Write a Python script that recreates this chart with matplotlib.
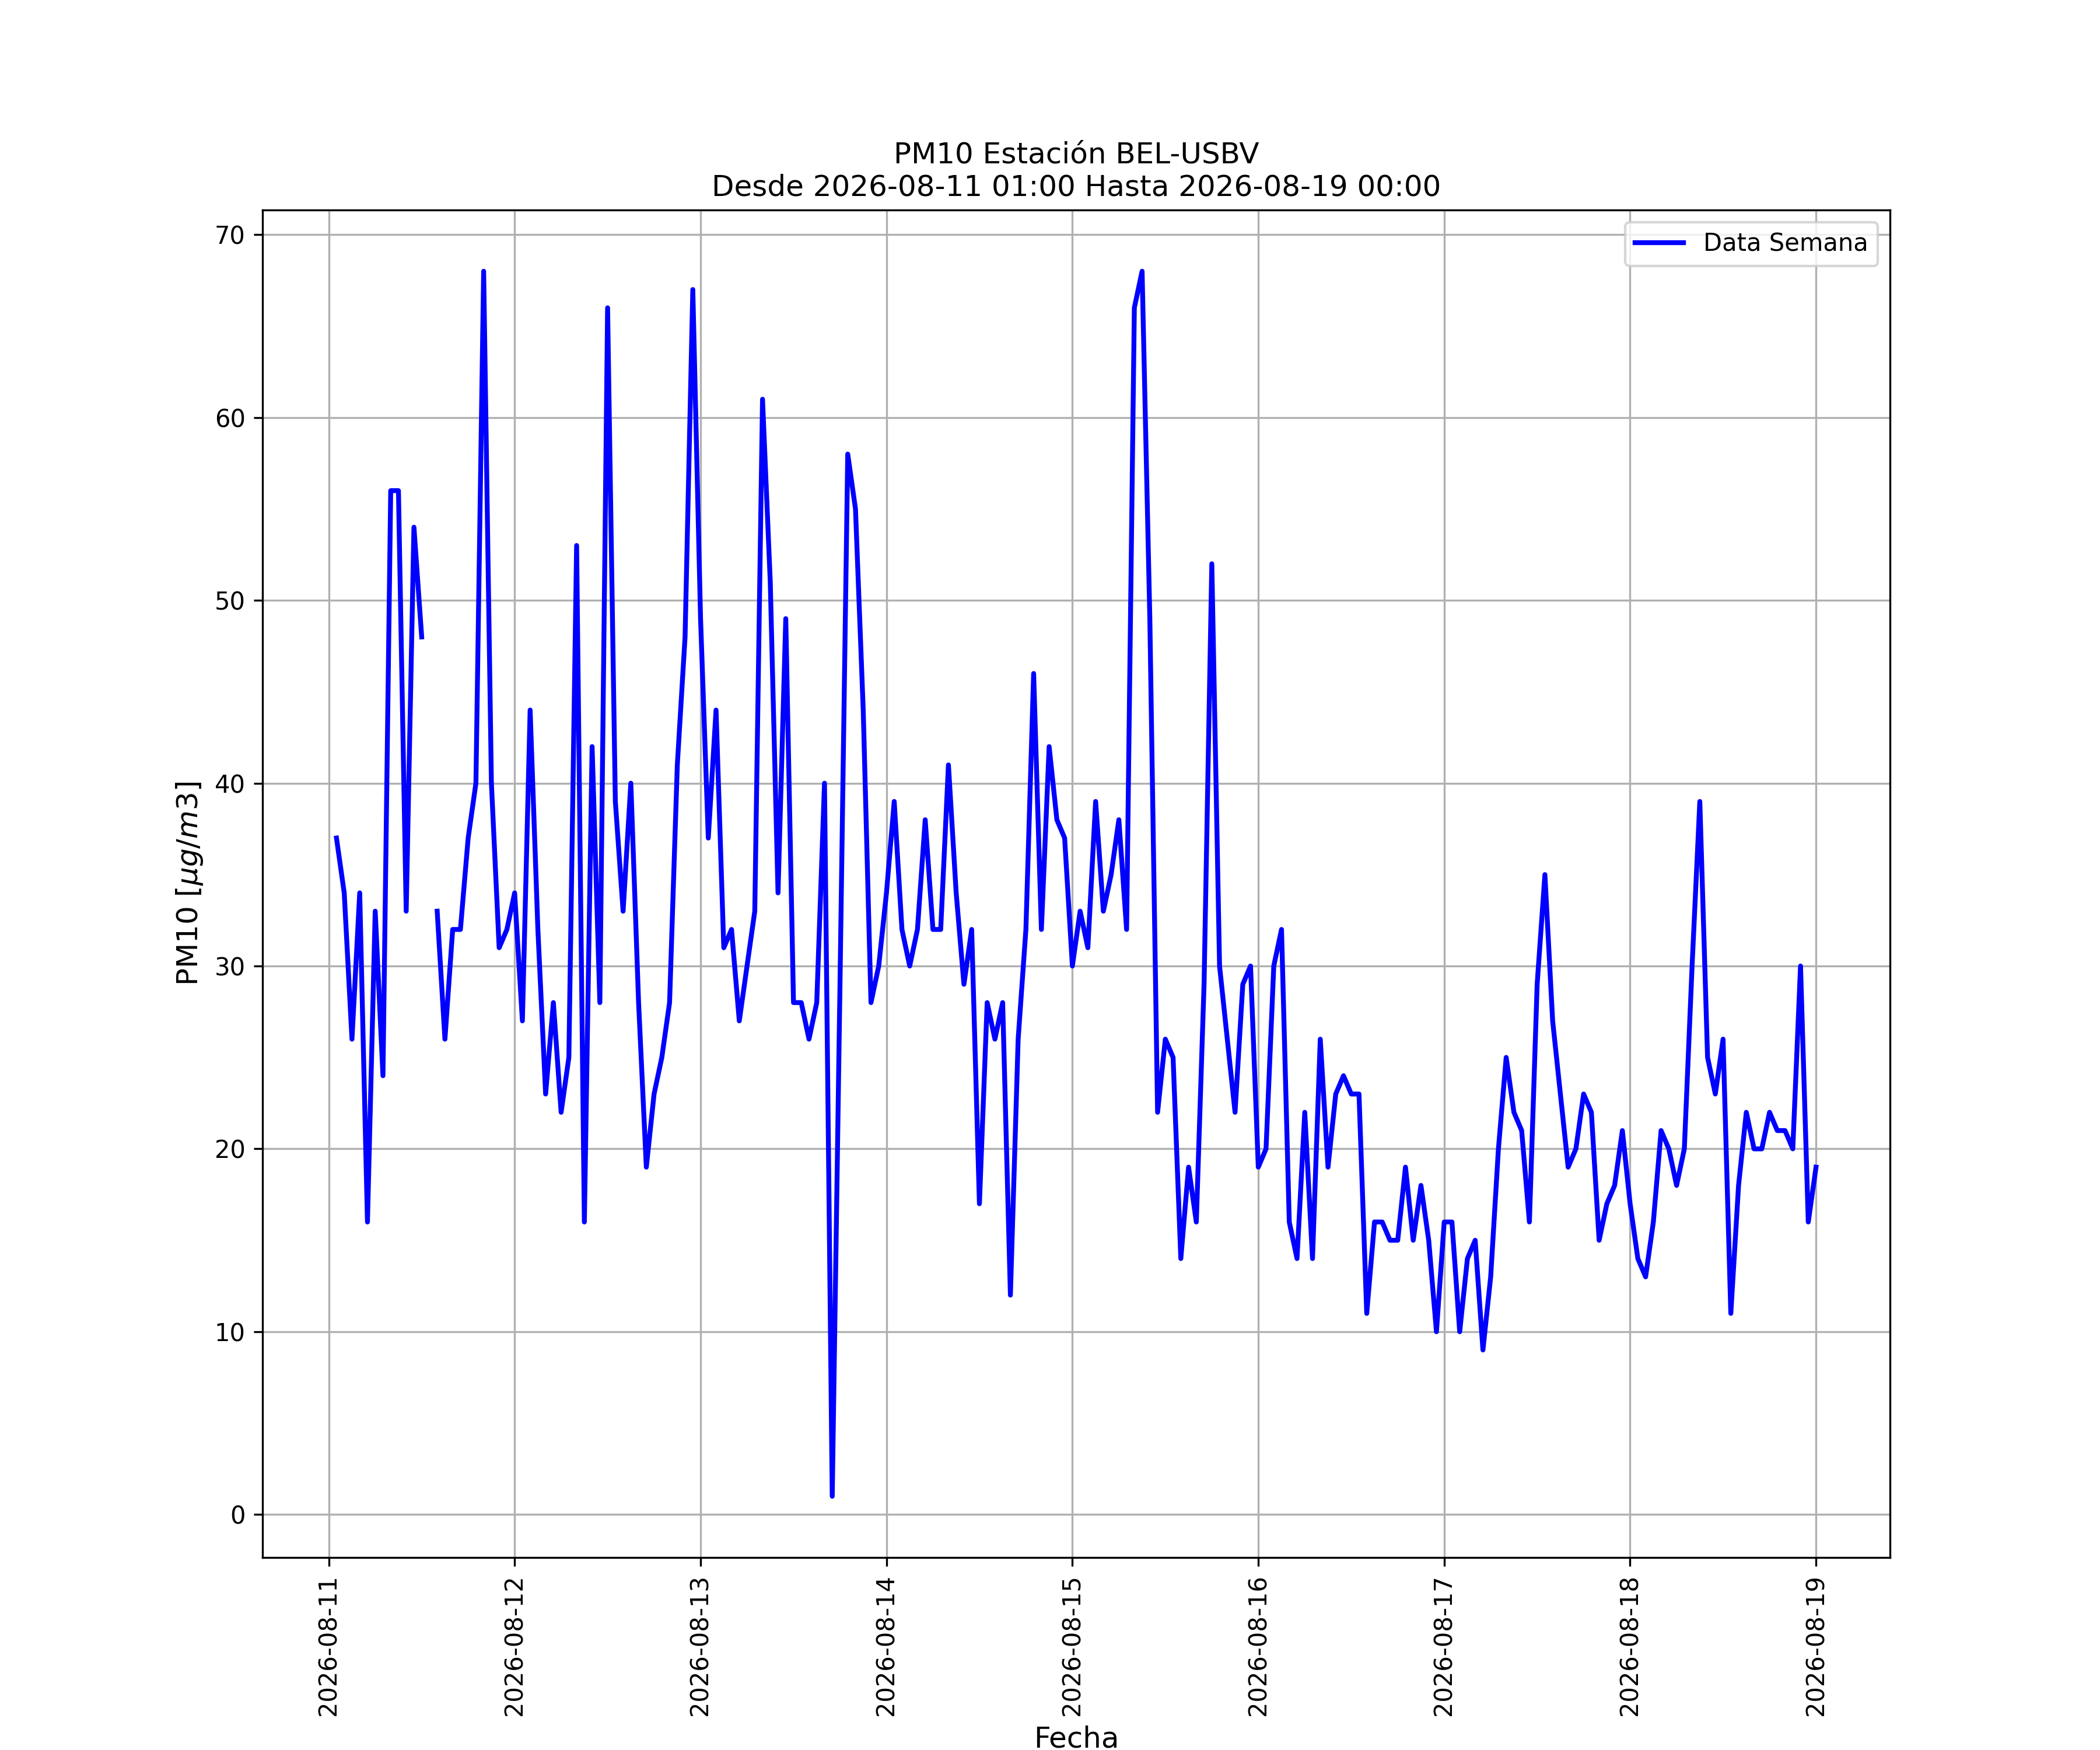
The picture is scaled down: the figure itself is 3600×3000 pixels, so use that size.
import numpy as np
import pandas as pd
import matplotlib
matplotlib.use("Agg")
import matplotlib.pyplot as plt
import matplotlib.dates as mdates

nan = np.nan
# Hourly PM10 values, each list runs 01:00 .. 00:00 of the next day
d11 = [37, 34, 26, 34, 16, 33, 24, 56, 56, 33, 54, 48, nan, 33, 26, 32, 32, 37, 40, 68, 40, 31, 32, 34]
d12 = [27, 44, 32, 23, 28, 22, 25, 53, 16, 42, 28, 66, 39, 33, 40, 28, 19, 23, 25, 28, 41, 48, 67, 49]
d13 = [37, 44, 31, 32, 27, 30, 33, 61, 51, 34, 49, 28, 28, 26, 28, 40, 1, 29, 58, 55, 44, 28, 30, 34]
d14 = [39, 32, 30, 32, 38, 32, 32, 41, 34, 29, 32, 17, 28, 26, 28, 12, 26, 32, 46, 32, 42, 38, 37, 30]
d15 = [33, 31, 39, 33, 35, 38, 32, 66, 68, 49, 22, 26, 25, 14, 19, 16, 29, 52, 30, 26, 22, 29, 30, 19]
d16 = [20, 30, 32, 16, 14, 22, 14, 26, 19, 23, 24, 23, 23, 11, 16, 16, 15, 15, 19, 15, 18, 15, 10, 16]
d17 = [16, 10, 14, 15, 9, 13, 20, 25, 22, 21, 16, 29, 35, 27, 23, 19, 20, 23, 22, 15, 17, 18, 21, 17]
d18 = [14, 13, 16, 21, 20, 18, 20, 30, 39, 25, 23, 26, 11, 18, 22, 20, 20, 22, 21, 21, 20, 30, 16, 19]

start = "2026-08-11 01:00"
end = "2026-08-19 00:00"
title = "PM10 Estación BEL-USBV\nDesde 2026-08-11 01:00 Hasta 2026-08-19 00:00"
series_label = "Data Semana"

values = np.array(d11 + d12 + d13 + d14 + d15 + d16 + d17 + d18, dtype=float)
times = pd.date_range(start, end, freq="h")

fig, ax = plt.subplots(figsize=(12, 10), dpi=300)
ax.plot(times, values, color="blue", linewidth=2, label=series_label)
ax.grid(True)
ax.xaxis.set_major_locator(mdates.DayLocator())
ax.xaxis.set_major_formatter(mdates.DateFormatter("%Y-%m-%d"))
plt.setp(ax.get_xticklabels(), rotation=90)
ax.set_title(title, fontsize=12)
ax.set_xlabel("Fecha", fontsize=12)
ax.set_ylabel(r"PM10 [$\mu g/m3$]", fontsize=12)
ax.legend(loc="upper right")
fig.savefig("out.png", dpi=300)
